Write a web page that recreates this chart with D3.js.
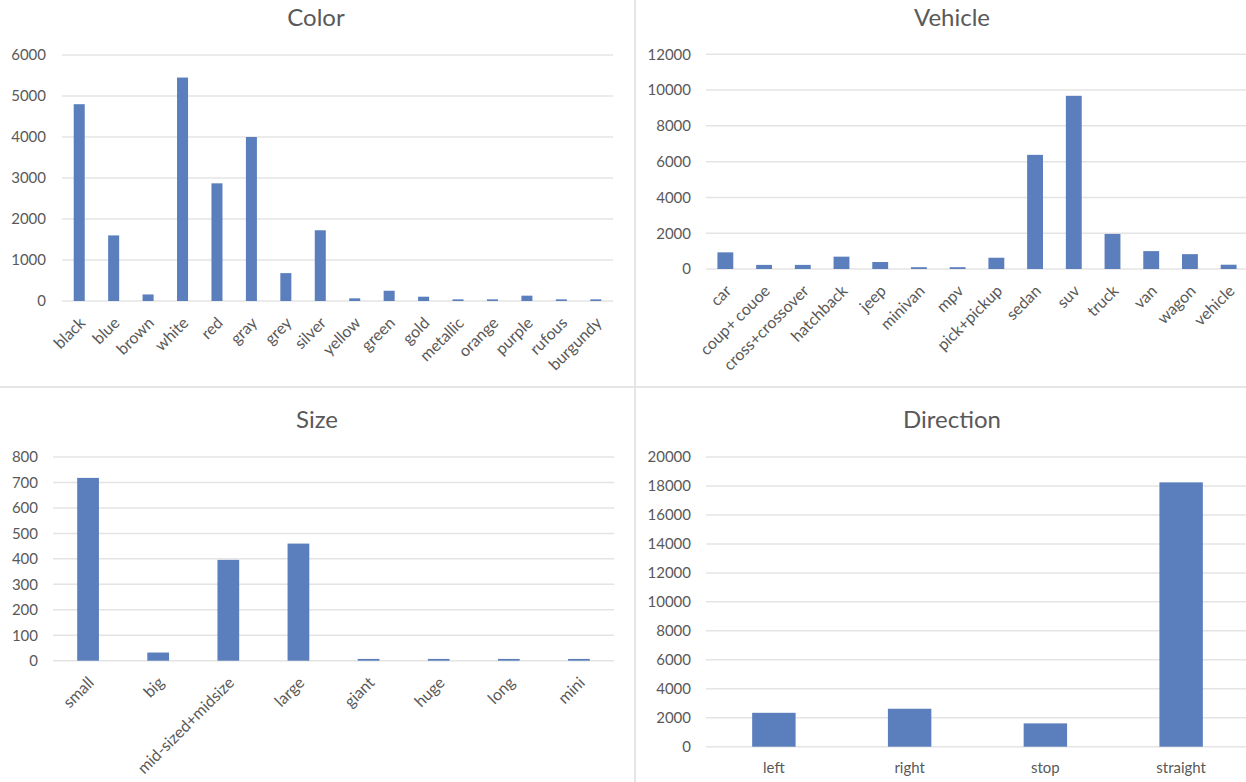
<!DOCTYPE html>
<html>
<head>
<meta charset="utf-8">
<script src="https://cdn.jsdelivr.net/npm/d3@7"></script>
<style>
  html, body { margin: 0; padding: 0; background: #ffffff; }
  svg { display: block; font-family: Lato, "Open Sans", "Liberation Sans", sans-serif; }
</style>
</head>
<body>
<svg id="chart" width="1246" height="782"></svg>
<script>
// ---- Data ----
const colorCategories = ["black","blue","brown","white","red","gray","grey","silver","yellow","green","gold","metallic","orange","purple","rufous","burgundy"];
const colorValues = [4800,1600,160,5450,2870,4000,680,1725,65,250,105,40,40,130,40,40];
const colorTicks = [0,1000,2000,3000,4000,5000,6000];

const vehicleCategories = ["car","coup+ couoe","cross+crossover","hatchback","jeep","minivan","mpv","pick+pickup","sedan","suv","truck","van","wagon","vehicle"];
const vehicleValues = [930,230,230,690,390,100,100,630,6380,9680,1960,1000,830,240];
const vehicleTicks = [0,2000,4000,6000,8000,10000,12000];

const sizeCategories = ["small","big","mid-sized+midsize","large","giant","huge","long","mini"];
const sizeValues = [718,32,396,460,7,7,7,7];
const sizeTicks = [0,100,200,300,400,500,600,700,800];

const directionCategories = ["left","right","stop","straight"];
const directionValues = [2340,2620,1610,18250];
const directionTicks = [0,2000,4000,6000,8000,10000,12000,14000,16000,18000,20000];

// ---- Style ----
const barColor = "#5b7fbd";
const gridColor = "#e4e4e4";
const textColor = "#595959";

const svg = d3.select("#chart");

// separators between panels
svg.append("line").attr("x1", 635).attr("x2", 635).attr("y1", 0).attr("y2", 782)
  .attr("stroke", "#e6e6e6").attr("stroke-width", 2);
svg.append("line").attr("x1", 0).attr("x2", 1246).attr("y1", 387).attr("y2", 387)
  .attr("stroke", "#e6e6e6").attr("stroke-width", 2);

function drawPanel(cfg) {
  const g = svg.append("g");
  const x = d3.scaleBand().domain(cfg.categories).range([cfg.x0, cfg.x1])
    .paddingInner(cfg.pad).paddingOuter(cfg.pad / 2);
  const ticks = cfg.ticks;
  const y = d3.scaleLinear().domain([ticks[0], ticks[ticks.length - 1]]).range([cfg.yBottom, cfg.yTop]);

  // gridlines
  g.append("g").selectAll("line").data(ticks).join("line")
    .attr("x1", cfg.x0).attr("x2", cfg.x1)
    .attr("y1", d => y(d)).attr("y2", d => y(d))
    .attr("stroke", gridColor).attr("stroke-width", 1.5);

  // y axis labels
  const yAxis = d3.axisLeft(y).tickValues(ticks).tickSize(0).tickPadding(0).tickFormat(d3.format("d"));
  const ya = g.append("g").attr("transform", `translate(${cfg.yLabelX},0)`).call(yAxis);
  ya.select(".domain").remove();
  ya.selectAll("text").attr("fill", textColor).style("font-size", "15px")
    .style("font-family", "Lato, 'Open Sans', sans-serif");

  // bars
  g.append("g").selectAll("rect").data(cfg.values).join("rect")
    .attr("x", (d, i) => x(cfg.categories[i]))
    .attr("width", x.bandwidth())
    .attr("y", d => y(d))
    .attr("height", d => y(0) - y(d))
    .attr("fill", barColor);

  // x axis labels
  const xAxis = d3.axisBottom(x).tickSize(0).tickPadding(0);
  const xa = g.append("g").attr("transform", `translate(0,${cfg.yBottom})`).call(xAxis);
  xa.select(".domain").remove();
  xa.selectAll("text").attr("fill", textColor)
    .style("font-family", "Lato, 'Open Sans', sans-serif");
  if (cfg.rotate) {
    xa.selectAll("text")
      .style("font-size", "16px")
      .attr("text-anchor", "end")
      .attr("y", 0).attr("dy", "0.35em")
      .attr("transform", "translate(3,19) rotate(-45)");
  } else {
    xa.selectAll("text").style("font-size", "15px").attr("y", 26).attr("dy", 0);
  }

  // title
  g.append("text").attr("x", cfg.titleX).attr("y", cfg.titleY)
    .attr("text-anchor", "middle").attr("fill", textColor)
    .style("font-size", "24px").text(cfg.title);
}

drawPanel({ title: "Color", titleX: 316, titleY: 26,
  categories: colorCategories, values: colorValues, ticks: colorTicks,
  x0: 62, x1: 613, yTop: 55, yBottom: 301, yLabelX: 46, pad: 0.68, rotate: true });

drawPanel({ title: "Vehicle", titleX: 952, titleY: 26,
  categories: vehicleCategories, values: vehicleValues, ticks: vehicleTicks,
  x0: 706, x1: 1248, yTop: 54.3, yBottom: 269, yLabelX: 691, pad: 0.59, rotate: true });

drawPanel({ title: "Size", titleX: 317, titleY: 428,
  categories: sizeCategories, values: sizeValues, ticks: sizeTicks,
  x0: 53, x1: 614, yTop: 457, yBottom: 660.7, yLabelX: 38, pad: 0.69, rotate: true });

drawPanel({ title: "Direction", titleX: 952, titleY: 428,
  categories: directionCategories, values: directionValues, ticks: directionTicks,
  x0: 706, x1: 1249, yTop: 457, yBottom: 746.7, yLabelX: 691, pad: 0.68, rotate: false });
</script>
</body>
</html>
